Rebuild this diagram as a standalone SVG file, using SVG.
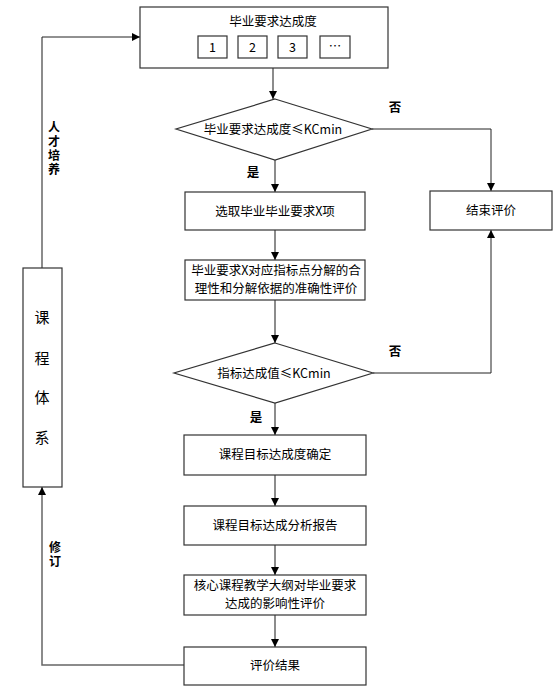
<svg xmlns="http://www.w3.org/2000/svg" width="558" height="693" viewBox="0 0 558 693">
<style>
.box{fill:#fff;stroke:#333;stroke-width:1.2}
.t{font-family:"Noto Sans CJK SC","Liberation Sans",sans-serif;font-size:12.5px;fill:#000;text-anchor:middle}
.b{font-weight:bold}
.v{font-family:"Noto Sans CJK SC","Liberation Sans",sans-serif;font-size:12px;font-weight:bold;fill:#000;writing-mode:vertical-rl;text-orientation:upright;letter-spacing:2px}
.c{fill:none;stroke:#666;stroke-width:1.5}
.cd{fill:none;stroke:#222;stroke-width:1}
</style>
<defs>
<marker id="a" viewBox="0 0 10 10" refX="10" refY="5" markerWidth="8" markerHeight="8" markerUnits="userSpaceOnUse" orient="auto">
<path d="M0,0 L10,5 L0,10 z" fill="#000"/>
</marker>
</defs>
<rect width="558" height="693" fill="#fff"/>
<g id="connectors">
<path class="c" d="M273,68 V99" marker-end="url(#a)"/>
<path class="c" d="M275,160 V192" marker-end="url(#a)"/>
<path class="c" d="M275,230 V260" marker-end="url(#a)"/>
<path class="c" d="M275,300 V343" marker-end="url(#a)"/>
<path class="c" d="M275,403 V435" marker-end="url(#a)"/>
<path class="c" d="M275,475 V506" marker-end="url(#a)"/>
<path class="c" d="M275,545 V575" marker-end="url(#a)"/>
<path class="c" d="M275,615 V647" marker-end="url(#a)"/>
<path class="cd" d="M372,129 H491 V191" marker-end="url(#a)"/>
<path class="cd" d="M373,373 H491 V230" marker-end="url(#a)"/>
<path class="c" d="M184,665 H42 V487" marker-end="url(#a)"/>
<path class="c" d="M42,268 V37"/>
<path class="cd" d="M42,37 H140" marker-end="url(#a)"/>
<text class="t b" x="395" y="112">否</text>
<text class="t b" x="253" y="177">是</text>
<text class="t b" x="395" y="356">否</text>
<text class="t b" x="256" y="422">是</text>
<text class="v" x="54" y="121">人才培养</text>
<text class="v" x="55" y="541">修订</text>
</g>
<g id="top">
<rect class="box" x="140" y="7" width="248" height="61"/>
<text class="t" x="273" y="26">毕业要求达成度</text>
<rect class="box" x="198" y="36" width="29" height="22"/>
<text class="t" x="212.5" y="52">1</text>
<rect class="box" x="238" y="36" width="29" height="22"/>
<text class="t" x="252.5" y="52">2</text>
<rect class="box" x="278" y="36" width="29" height="22"/>
<text class="t" x="292.5" y="52">3</text>
<rect class="box" x="320" y="36" width="30" height="22"/>
<text class="t" x="335" y="51">…</text>
</g>
<g id="d1">
<polygon class="box" points="275,99 372,129 275,160 176,129"/>
<text class="t" x="273" y="134">毕业要求达成度≤KCmin</text>
</g>
<g id="n1">
<rect class="box" x="185" y="192" width="180" height="38"/>
<text class="t" x="275" y="216">选取毕业毕业要求X项</text>
</g>
<g id="n2">
<rect class="box" x="185" y="260" width="180" height="40"/>
<text class="t" x="276" y="275">毕业要求X对应指标点分解的合</text>
<text class="t" x="276" y="293">理性和分解依据的准确性评价</text>
</g>
<g id="d2">
<polygon class="box" points="275,343 373,373 275,403 174,373"/>
<text class="t" x="274" y="378">指标达成值≤KCmin</text>
</g>
<g id="end">
<rect class="box" x="430" y="191" width="122" height="39"/>
<text class="t" x="491" y="215">结束评价</text>
</g>
<g id="n3">
<rect class="box" x="184" y="435" width="182" height="40"/>
<text class="t" x="275" y="459">课程目标达成度确定</text>
</g>
<g id="n4">
<rect class="box" x="184" y="506" width="182" height="39"/>
<text class="t" x="275" y="530">课程目标达成分析报告</text>
</g>
<g id="n5">
<rect class="box" x="184" y="575" width="182" height="40"/>
<text class="t" x="275" y="590">核心课程教学大纲对毕业要求</text>
<text class="t" x="275" y="608">达成的影响性评价</text>
</g>
<g id="n6">
<rect class="box" x="184" y="647" width="182" height="38"/>
<text class="t" x="275" y="670">评价结果</text>
</g>
<g id="sys">
<rect class="box" x="23" y="268" width="39" height="219"/>
<text class="t" x="42" y="323" style="font-size:15px">课</text>
<text class="t" x="42" y="364" style="font-size:15px">程</text>
<text class="t" x="42" y="403" style="font-size:15px">体</text>
<text class="t" x="42" y="443" style="font-size:15px">系</text>
</g>
</svg>
